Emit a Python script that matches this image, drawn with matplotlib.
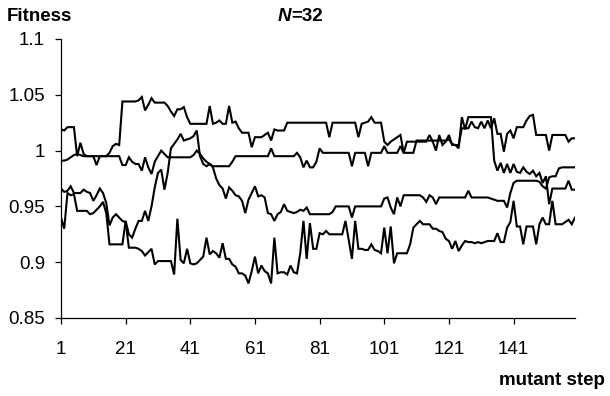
import numpy as np
import matplotlib
matplotlib.use("Agg")
import matplotlib.pyplot as plt

plt.rcParams['font.family'] = ['Liberation Sans', 'DejaVu Sans']

steps = np.arange(1, 161)
x_ticks = [1, 21, 41, 61, 81, 101, 121, 141]
y_ticks = [0.85, 0.9, 0.95, 1.0, 1.05, 1.1]
y_tick_labels = ['0.85', '0.9', '0.95', '1', '1.05', '1.1']

run_a = [
    1.019, 1.018, 1.021, 1.021, 1.021, 0.995, 1.007, 0.997, 0.995, 0.995,
    0.995, 0.987, 0.995, 0.995, 0.995, 0.998, 1.004, 1.006, 1.005, 1.044,
    1.044, 1.044, 1.044, 1.044, 1.045, 1.048, 1.036, 1.041, 1.047, 1.043,
    1.043, 1.043, 1.043, 1.040, 1.035, 1.031, 1.037, 1.037, 1.039, 1.030,
    1.024, 1.024, 1.024, 1.024, 1.024, 1.024, 1.040, 1.024, 1.025, 1.027,
    1.024, 1.024, 1.040, 1.025, 1.026, 1.020, 1.016, 1.016, 1.016, 1.003,
    1.012, 1.012, 1.012, 1.014, 1.016, 1.009, 1.019, 1.018, 1.018, 1.018,
    1.025, 1.025, 1.025, 1.025, 1.025, 1.025, 1.025, 1.025, 1.025, 1.025,
    1.025, 1.025, 1.025, 1.012, 1.025, 1.025, 1.025, 1.025, 1.025, 1.025,
    1.025, 1.025, 1.012, 1.024, 1.025, 1.026, 1.030, 1.025, 1.025, 1.025,
    1.008, 1.005, 1.008, 1.010, 1.012, 1.014, 0.998, 1.008, 1.008, 1.008,
    1.008, 1.008, 1.008, 1.008, 1.014, 1.008, 1.000, 1.014, 1.005, 1.008,
    1.014, 1.005, 1.005, 1.002, 1.030, 1.019, 1.030, 1.030, 1.030, 1.030,
    1.030, 1.030, 1.030, 1.030, 0.991, 0.982, 0.989, 0.980, 0.988, 0.980,
    0.988, 0.981, 0.980, 0.985, 0.981, 0.979, 0.982, 0.977, 0.980, 0.971,
    0.977, 0.952, 0.966, 0.966, 0.966, 0.966, 0.966, 0.973, 0.965, 0.965,
]

run_b = [
    0.991, 0.991, 0.992, 0.994, 0.996, 0.997, 0.996, 0.995, 0.995, 0.995,
    0.995, 0.995, 0.995, 0.995, 0.995, 0.995, 0.995, 0.995, 0.995, 0.987,
    0.987, 0.994, 0.990, 0.988, 0.988, 0.982, 0.994, 0.985, 0.979, 0.990,
    0.995, 1.000, 0.997, 0.994, 0.994, 0.994, 0.994, 0.994, 0.994, 0.994,
    0.994, 0.996, 1.000, 0.997, 0.993, 0.990, 0.988, 0.986, 0.986, 0.986,
    0.986, 0.986, 0.986, 0.990, 0.995, 0.995, 0.995, 0.995, 0.995, 0.995,
    0.995, 0.995, 0.995, 0.995, 0.995, 1.002, 0.995, 0.995, 0.995, 0.995,
    0.995, 0.995, 0.995, 0.998, 0.994, 0.985, 0.991, 0.985, 0.985, 0.990,
    1.002, 0.998, 0.998, 0.998, 0.998, 0.998, 0.998, 0.998, 0.998, 0.998,
    0.986, 0.998, 0.998, 0.998, 0.998, 0.986, 0.998, 0.998, 0.998, 0.998,
    1.004, 0.998, 0.998, 0.998, 0.998, 1.004, 0.998, 0.998, 0.998, 0.998,
    1.009, 1.009, 1.009, 1.009, 1.009, 1.009, 1.009, 1.009, 1.009, 1.009,
    1.010, 1.006, 1.005, 1.005, 1.020, 1.020, 1.020, 1.026, 1.021, 1.020,
    1.026, 1.020, 1.027, 1.020, 1.029, 1.015, 1.015, 0.999, 1.015, 1.018,
    1.011, 1.021, 1.021, 1.021, 1.027, 1.031, 1.032, 1.014, 1.014, 1.014,
    1.014, 1.000, 1.014, 1.014, 1.014, 1.014, 1.014, 1.008, 1.011, 1.011,
]

run_c = [
    0.966, 0.963, 0.964, 0.968, 0.962, 0.962, 0.962, 0.965, 0.963, 0.962,
    0.955, 0.960, 0.966, 0.962, 0.953, 0.933, 0.940, 0.943, 0.940, 0.937,
    0.936, 0.913, 0.913, 0.913, 0.912, 0.910, 0.906, 0.909, 0.912, 0.898,
    0.901, 0.901, 0.901, 0.901, 0.901, 0.889, 0.939, 0.902, 0.899, 0.912,
    0.899, 0.898, 0.899, 0.902, 0.905, 0.922, 0.907, 0.910, 0.908, 0.904,
    0.917, 0.903, 0.903, 0.898, 0.896, 0.890, 0.890, 0.888, 0.881, 0.892,
    0.905, 0.890, 0.897, 0.892, 0.890, 0.881, 0.922, 0.890, 0.891, 0.891,
    0.889, 0.897, 0.891, 0.890, 0.908, 0.937, 0.903, 0.935, 0.912, 0.912,
    0.926, 0.925, 0.928, 0.925, 0.925, 0.925, 0.925, 0.925, 0.937, 0.920,
    0.903, 0.937, 0.912, 0.912, 0.911, 0.911, 0.916, 0.911, 0.910, 0.908,
    0.931, 0.908, 0.932, 0.899, 0.908, 0.908, 0.908, 0.908, 0.916, 0.931,
    0.934, 0.937, 0.934, 0.934, 0.934, 0.930, 0.930, 0.928, 0.927, 0.921,
    0.919, 0.912, 0.919, 0.910, 0.915, 0.919, 0.918, 0.918, 0.917, 0.918,
    0.917, 0.918, 0.919, 0.919, 0.919, 0.926, 0.918, 0.918, 0.931, 0.936,
    0.955, 0.932, 0.932, 0.916, 0.932, 0.932, 0.932, 0.916, 0.934, 0.940,
    0.934, 0.934, 0.955, 0.934, 0.934, 0.934, 0.936, 0.938, 0.934, 0.940,
]

run_d = [
    0.940, 0.930, 0.962, 0.960, 0.961, 0.946, 0.946, 0.946, 0.946, 0.943,
    0.944, 0.947, 0.950, 0.954, 0.944, 0.916, 0.916, 0.916, 0.916, 0.916,
    0.937, 0.925, 0.922, 0.930, 0.937, 0.937, 0.946, 0.937, 0.950, 0.967,
    0.980, 0.983, 0.965, 0.980, 1.002, 1.006, 1.010, 1.015, 1.009, 1.010,
    1.011, 1.013, 1.018, 0.995, 0.988, 0.986, 0.988, 0.985, 0.975, 0.969,
    0.966, 0.957, 0.967, 0.964, 0.960, 0.959, 0.955, 0.944, 0.956, 0.962,
    0.968, 0.959, 0.960, 0.958, 0.944, 0.943, 0.937, 0.943, 0.945, 0.952,
    0.946, 0.945, 0.944, 0.945, 0.947, 0.946, 0.949, 0.943, 0.943, 0.943,
    0.943, 0.943, 0.943, 0.943, 0.945, 0.950, 0.950, 0.950, 0.950, 0.950,
    0.940, 0.950, 0.950, 0.950, 0.950, 0.950, 0.950, 0.950, 0.950, 0.950,
    0.957, 0.958, 0.949, 0.943, 0.958, 0.950, 0.960, 0.960, 0.960, 0.960,
    0.960, 0.960, 0.958, 0.954, 0.960, 0.958, 0.952, 0.958, 0.958, 0.958,
    0.958, 0.958, 0.958, 0.958, 0.958, 0.958, 0.964, 0.958, 0.958, 0.958,
    0.958, 0.958, 0.958, 0.957, 0.956, 0.955, 0.955, 0.955, 0.949, 0.962,
    0.971, 0.973, 0.973, 0.973, 0.973, 0.973, 0.973, 0.973, 0.972, 0.968,
    0.966, 0.976, 0.977, 0.977, 0.984, 0.985, 0.985, 0.985, 0.985, 0.985,
]

fig = plt.figure(figsize=(6.10, 3.96), dpi=100)
ax = fig.add_axes([61 / 610, 1 - 318 / 396, (575 - 61) / 610, (318 - 39) / 396])

for run in (run_a, run_b, run_c, run_d):
    ax.plot(steps, run, color='black', lw=1.5, solid_joinstyle='miter')

ax.set_xlim(1, 160)
ax.set_ylim(0.85, 1.1)
ax.set_xticks(x_ticks)
ax.set_xticklabels([str(t) for t in x_ticks])
ax.set_yticks(y_ticks)
ax.set_yticklabels(y_tick_labels)

for side in ('top', 'right'):
    ax.spines[side].set_visible(False)
for side in ('left', 'bottom'):
    ax.spines[side].set_color('black')
    ax.spines[side].set_linewidth(0.9)

ax.tick_params(axis='y', direction='out', length=4.5, width=0.9, pad=7,
               labelsize=13.5, colors='black')
ax.tick_params(axis='x', direction='out', length=4.5, width=0.9, pad=12,
               labelsize=13.5, colors='black')

fig.text(7 / 610, 1 - 21 / 396, 'Fitness', fontsize=13.5, fontweight='bold',
         ha='left', va='baseline')
tn = fig.text(278 / 610, 1 - 21 / 396, 'N', fontsize=13.5, fontweight='bold',
              style='italic', ha='left', va='baseline')
fig.text(0, 0, '', fontsize=1)
ax.annotate('=32', xy=(1, 0), xycoords=tn, fontsize=13.5, fontweight='bold',
            ha='left', va='bottom', annotation_clip=False)
fig.text(605 / 610, 1 - 385 / 396, 'mutant step', fontsize=13.5,
         fontweight='bold', ha='right', va='baseline')

fig.savefig('out.png', dpi=100)
